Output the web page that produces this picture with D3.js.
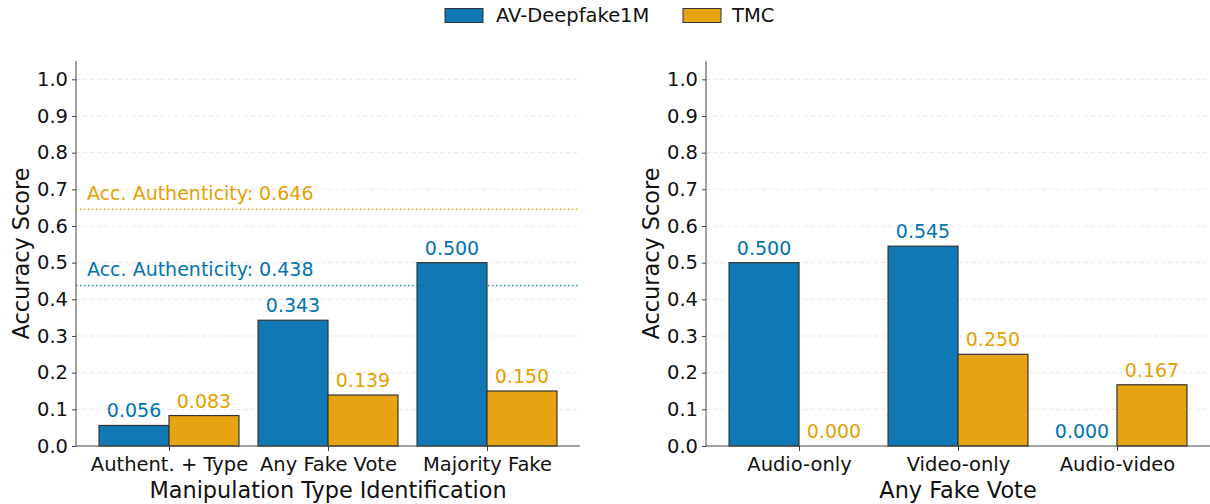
<!DOCTYPE html>
<html lang="en">
<head>
<meta charset="UTF-8">
<script src="https://d3js.org/d3.v7.min.js"></script>
<title>Accuracy Scores</title>
<style>
  body { margin: 0; background: #fff; }
  svg text { font-family: "DejaVu Sans", sans-serif; }
</style>
</head>
<body>
<div id="chart"></div>
<script>
// data
var seriesNames = ["AV-Deepfake1M", "TMC"];
var leftCategories = ["Authent. + Type", "Any Fake Vote", "Majority Fake"];
var leftAV = [0.056, 0.343, 0.500];
var leftTMC = [0.083, 0.139, 0.150];
var rightCategories = ["Audio-only", "Video-only", "Audio-video"];
var rightAV = [0.500, 0.545, 0.000];
var rightTMC = [0.000, 0.250, 0.167];
var authenticity = [0.438, 0.646]; // AV-Deepfake1M, TMC
var yTicks = [0, 0.1, 0.2, 0.3, 0.4, 0.5, 0.6, 0.7, 0.8, 0.9, 1.0];

var barColors = ["#1078b5", "#e6a312"];
var textColors = ["#0173b2", "#e69f00"];

var W = 1210, H = 504;
var svg = d3.select("#chart").append("svg")
    .attr("width", W).attr("height", H);

// legend
var legendItems = [{ x: 445, tx: 496 }, { x: 683, tx: 732 }];
legendItems.forEach(function (d, i) {
    svg.append("rect")
        .attr("x", d.x).attr("y", 8.5).attr("width", 38).attr("height", 14)
        .attr("fill", barColors[i]).attr("stroke", "#333").attr("stroke-width", 1);
    svg.append("text")
        .attr("x", d.tx).attr("y", 22)
        .attr("font-size", 19.5).attr("fill", "#111")
        .text(seriesNames[i]);
});

function drawPanel(x0, x1, cats, av, tmc, xLabel, refs) {
    var top = 61, bottom = 446;
    var width = 0.44;
    // x in data units: categories at 0,1,2 with matplotlib-like padding
    var x = d3.scaleLinear().domain([-0.585, 2.585]).range([x0, x1]);
    var y = d3.scaleLinear().domain([0, 1.05]).range([bottom, top]);
    var g = svg.append("g");

    // grid
    g.selectAll(".grid").data(yTicks.slice(1)).enter().append("line")
        .attr("x1", x0).attr("x2", x1)
        .attr("y1", function (d) { return y(d); })
        .attr("y2", function (d) { return y(d); })
        .attr("stroke", "#dcdcdc").attr("stroke-width", 0.8)
        .attr("stroke-dasharray", "4,3");

    // y axis
    var yAxis = d3.axisLeft(y).tickValues(yTicks).tickFormat(d3.format(".1f"))
        .tickSize(4).tickPadding(4);
    var ya = g.append("g").attr("transform", "translate(" + x0 + ",0)").call(yAxis);
    ya.select(".domain").attr("stroke", "#444").attr("d", "M0," + top + "V" + bottom);
    ya.selectAll(".tick line").attr("stroke", "#444");
    ya.selectAll(".tick text").attr("font-size", 19.5).attr("fill", "#111")
        .attr("font-family", "DejaVu Sans");

    // bars
    var series = [av, tmc];
    series.forEach(function (vals, s) {
        var offset = s === 0 ? -width / 2 : width / 2;
        g.selectAll(".bar" + s).data(vals).enter().append("rect")
            .attr("x", function (d, i) { return x(i + offset - width / 2); })
            .attr("width", function () { return x(width) - x(0); })
            .attr("y", function (d) { return y(d); })
            .attr("height", function (d) { return y(0) - y(d); })
            .attr("fill", barColors[s])
            .attr("stroke", "#333").attr("stroke-width", 1.2);
        g.selectAll(".lab" + s).data(vals).enter().append("text")
            .attr("x", function (d, i) { return x(i + offset); })
            .attr("y", function (d) { return y(d) - 8; })
            .attr("text-anchor", "middle")
            .attr("font-size", 19)
            .attr("fill", textColors[s])
            .text(function (d) { return d.toFixed(3); });
    });

    // reference lines
    if (refs) {
        refs.forEach(function (v, s) {
            g.append("line")
                .attr("x1", x0).attr("x2", x1)
                .attr("y1", y(v)).attr("y2", y(v))
                .attr("stroke", textColors[s]).attr("stroke-width", 1.5)
                .attr("stroke-dasharray", "1.5,2.5").attr("opacity", 0.8);
            g.append("text")
                .attr("x", x0 + 11).attr("y", y(v) - 9)
                .attr("font-size", 19).attr("fill", textColors[s])
                .text("Acc. Authenticity: " + v.toFixed(3));
        });
    }

    // x axis
    var xAxis = d3.axisBottom(x).tickValues([0, 1, 2])
        .tickFormat(function (d) { return cats[d]; })
        .tickSize(5).tickPadding(6);
    var xa = g.append("g").attr("transform", "translate(0," + bottom + ")").call(xAxis);
    xa.select(".domain").attr("stroke", "#444").attr("d", "M" + x0 + ",0H" + x1);
    xa.selectAll(".tick line").attr("stroke", "#444");
    xa.selectAll(".tick text").attr("font-size", 19.5).attr("fill", "#111")
        .attr("font-family", "DejaVu Sans");

    // axis labels
    g.append("text")
        .attr("x", (x0 + x1) / 2).attr("y", 498)
        .attr("text-anchor", "middle").attr("font-size", 22.4).attr("fill", "#111")
        .text(xLabel);
    g.append("text")
        .attr("transform", "translate(" + (x0 - 47) + "," + ((top + bottom) / 2) + ") rotate(-90)")
        .attr("text-anchor", "middle").attr("font-size", 22.4).attr("fill", "#111")
        .text("Accuracy Score");
}

drawPanel(76, 580, leftCategories, leftAV, leftTMC, "Manipulation Type Identification", authenticity);
drawPanel(706, 1210, rightCategories, rightAV, rightTMC, "Any Fake Vote", null);
</script>
</body>
</html>
